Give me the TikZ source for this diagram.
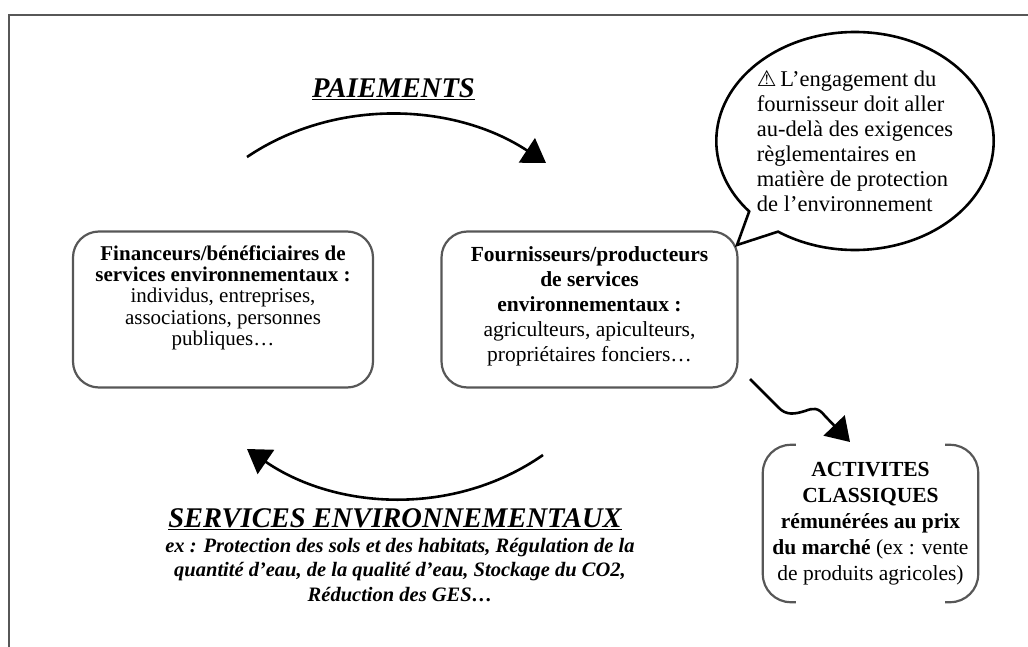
\documentclass[tikz,border=0pt]{standalone}
\usepackage{fontspec}
\setmainfont{Liberation Serif}
\newfontfamily\symbfont{DejaVu Sans}
\usetikzlibrary{arrows.meta,shapes.callouts}
\definecolor{cadre}{HTML}{575757}

\begin{document}
\begin{tikzpicture}[x=1pt,y=-1pt,
    boite/.style = {draw=cadre, line width=2.2pt, rounded corners=26pt, minimum height=156pt, align=center},
    titre/.style = {font=\fontsize{28.5}{32}\selectfont\bfseries\itshape},
    fleche/.style = {line width=2.6pt, -{Triangle[length=23pt,width=29pt]}},
    crochet/.style = {draw=cadre, line width=2.2pt, rounded corners=28pt}]
\useasboundingbox (0,0) rectangle (1028,647);
\draw[cadre, line width=2.4pt] (1032,15) -- (9,15) -- (9,651);

\node[boite, minimum width=300pt, font=\fontsize{21}{21.2}\selectfont] (fin) at (223,309.5)
    {\textbf{Financeurs/bénéficiaires de}\\ \textbf{services environnementaux :}\\ individus, entreprises,\\ associations, personnes\\ publiques\ldots\rule[-28pt]{0pt}{0pt}};
\node[boite, minimum width=296pt, font=\fontsize{21.5}{25}\selectfont] (four) at (589.5,309.5)
    {\textbf{Fournisseurs/producteurs}\\ \textbf{de services}\\ \textbf{environnementaux :}\\ agriculteurs, apiculteurs,\\ propriétaires fonciers\ldots\rule[-11pt]{0pt}{0pt}};

\node[ellipse callout, draw, line width=2.6pt, minimum width=277pt, minimum height=218pt,
    callout absolute pointer={(737,245)}, callout pointer arc=16,
    align=left, font=\fontsize{22.5}{25}\selectfont, inner sep=0pt] (bulle) at (855,141)
    {{\symbfont\fontsize{22}{22}\selectfont\bfseries ⚠}\,L’engagement du\\ fournisseur doit aller\\ au-delà des exigences\\ règlementaires en\\ matière de protection\\ de l’environnement};

\node[titre, anchor=base] (paie) at (393.5,98) {\underline{PAIEMENTS}};
\node[titre, anchor=base] (serv) at (395,527) {\underline{SERVICES ENVIRONNEMENTAUX}};
\node[align=center, font=\fontsize{20.5}{24.5}\selectfont\bfseries\itshape] (ex) at (400,570)
    {ex : Protection des sols et des habitats, Régulation de la\\ quantité d’eau, de la qualité d’eau, Stockage du CO2,\\ Réduction des GES\ldots};

\node[align=center, font=\fontsize{21.5}{26}\selectfont, minimum width=215pt, minimum height=157pt, inner sep=0pt] (act) at (870.5,523.5)
    {\textbf{ACTIVITES}\\ \textbf{CLASSIQUES}\\ \textbf{rémunérées au prix}\\ \textbf{du marché} (ex : vente\\ de produits agricoles)};
\draw[crochet] ([xshift=33pt]act.north west) -- (act.north west) -- (act.south west) -- ([xshift=33pt]act.south west);
\draw[crochet] ([xshift=-33pt]act.north east) -- (act.north east) -- (act.south east) -- ([xshift=-33pt]act.south east);

\coordinate (p1) at (247,157);
\coordinate (p2) at (546,163);
\coordinate (s1) at (543,455);
\coordinate (s2) at (247,449);
\coordinate (w1) at (750,379);
\coordinate (w2) at (850,442);

\draw[fleche] (p1) .. controls (336,97) and (455,103) .. (p2);
\draw[fleche] (s1) .. controls (454,517) and (336,510) .. (s2);
\draw[fleche] (w1) -- (778,407) .. controls (786,416) and (795,414) .. (805,411)
    .. controls (813,408) and (818,407) .. (825,416) -- (w2);
\end{tikzpicture}
\end{document}
